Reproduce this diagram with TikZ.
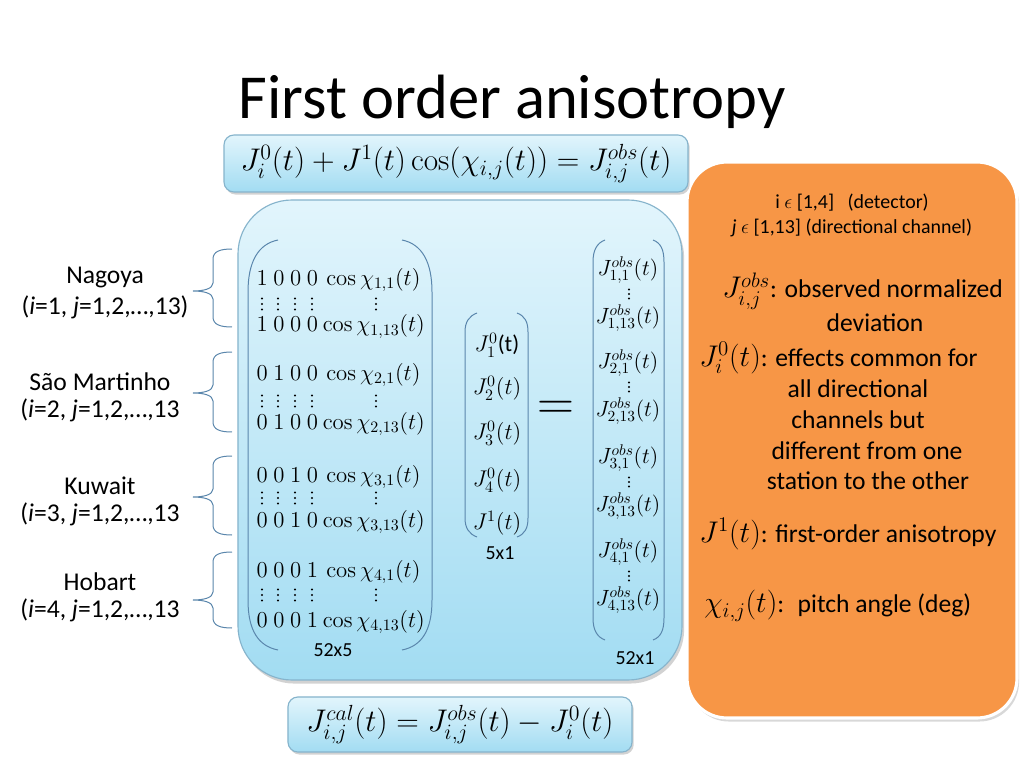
\RequirePackage{fix-cm}
\documentclass[tikz,border=0pt]{standalone}
\usepackage[no-math]{fontspec}
\setmainfont{Carlito}
\usetikzlibrary{shadows}
\definecolor{boxtop}{HTML}{E2F5FC}
\definecolor{boxbot}{HTML}{A2DCF2}
\definecolor{boxline}{HTML}{86B4CC}
\definecolor{parcol}{HTML}{5A86AC}
\definecolor{orng}{HTML}{F79646}
\newcommand\dg[1]{\makebox[11.75pt][c]{$#1$}}
\newcommand\mrow[6]{\dg{#1}\dg{#2}\dg{#3}\dg{#4}\hspace{#6}$\cos\chi_{#5}(t)$}
% three vertical dots drawn as small discs: x, y, spacing, radius
\newcommand\dotcol[4]{%
  \fill[black] (#1,#2-#3) circle[radius=#4];
  \fill[black] (#1,#2) circle[radius=#4];
  \fill[black] (#1,#2+#3) circle[radius=#4];}
\newcommand\sidebrace[3]{%
  \draw[bracestyle] (232,#1) .. controls (221,#1) and (213,#1+2) .. (213,#1+10)
    -- (213,#2-8) .. controls (213,#2-2) and (203,#2) .. (193,#2)
    .. controls (203,#2) and (213,#2+2) .. (213,#2+8)
    -- (213,#3-10) .. controls (213,#3-2) and (221,#3) .. (232,#3);}
\tikzset{
  eqbox/.style={draw=boxline, line width=0.8pt, rounded corners=7pt,
    top color=boxtop, bottom color=boxbot,
    drop shadow={shadow xshift=1.2pt, shadow yshift=-1.8pt, opacity=0.35}},
  bigbox/.style={draw=boxline, line width=0.8pt, rounded corners=38pt,
    top color=boxtop, bottom color=boxbot,
    drop shadow={shadow xshift=1.5pt, shadow yshift=-2.5pt, opacity=0.35}},
  obox/.style={draw=white, line width=2.2pt, rounded corners=28pt, fill=orng,
    drop shadow={shadow xshift=1.5pt, shadow yshift=-2.5pt, opacity=0.3}},
  parstyle/.style={draw=parcol, line width=0.7pt},
  bracestyle/.style={draw=parcol, line width=0.7pt},
  titletxt/.style={font=\fontsize{44}{50}\selectfont, inner sep=0pt, anchor=base},
  lbl/.style={font=\fontsize{18}{21}\selectfont, inner sep=0pt},
  otxt/.style={font=\fontsize{18}{21}\selectfont, inner sep=0pt},
  stxt/.style={font=\fontsize{14}{17}\selectfont, inner sep=0pt},
  mtx/.style={font=\fontsize{16}{19}\selectfont, inner sep=0pt, anchor=base west},
  vec/.style={font=\fontsize{16}{19}\selectfont, inner sep=0pt},
  ovec/.style={font=\fontsize{15.5}{18}\selectfont, inner sep=0pt},
}
\begin{document}
\begin{tikzpicture}[x=0.703125pt,y=-0.703125pt]
\useasboundingbox (0,0) rectangle (1024,768);
\fill[white] (0,0) rectangle (1024,768);

% title
\node[titletxt] (title) at (512,119) {First order anisotropy};

% boxes
\node[obox, minimum width=232pt, minimum height=390.9pt] (orange) at (852,440) {};
\node[bigbox, minimum width=312.2pt, minimum height=337.5pt] (big) at (460,440) {};
\node[eqbox, minimum width=326.25pt, minimum height=40.08pt] (topeq) at (456,163.5)
  {\fontsize{22}{26}\selectfont $J_i^0(t)+J^1(t)\cos(\chi_{i,j}(t))=J_{i,j}^{obs}(t)$};
\node[eqbox, minimum width=241.9pt, minimum height=38.7pt] (boteq) at (460,724.5)
  {\fontsize{22}{26}\selectfont $J_{i,j}^{cal}(t)=J_{i,j}^{obs}(t)-J_i^0(t)$};

% left labels
\node[lbl] (nag1) at (105,277) {Nagoya};
\node[lbl] (nag2) at (105,307) {(\textit{i}=1, \textit{j}=1,2,…,13)};
\node[lbl] (sao1) at (100,382) {São Martinho};
\node[lbl] (sao2) at (100,410) {(\textit{i}=2, \textit{j}=1,2,…,13};
\node[lbl] (kuw1) at (100,486) {Kuwait};
\node[lbl] (kuw2) at (100,514) {(\textit{i}=3, \textit{j}=1,2,…,13};
\node[lbl] (hob1) at (100,582) {Hobart};
\node[lbl] (hob2) at (100,610) {(\textit{i}=4, \textit{j}=1,2,…,13};

% braces
\sidebrace{249}{291}{327}
\sidebrace{352}{393}{432}
\sidebrace{456}{497}{535}
\sidebrace{552}{600}{628}

% 52x5 matrix parentheses
\draw[parstyle] (278,240) .. controls (258,244) and (248,262) .. (248,292) -- (248,600)
  .. controls (248,630) and (258,646) .. (278,650);
\draw[parstyle] (402,240) .. controls (422,244) and (432,262) .. (432,292) -- (432,600)
  .. controls (432,630) and (422,646) .. (402,650);

% matrix rows
\node[mtx] (r1) at (253.6,285) {\mrow{1}{0}{0}{0}{1,1}{4pt}};
\node[mtx] (r2) at (253.6,332) {\mrow{1}{0}{0}{0}{1,13}{1.5pt}};
\node[mtx] (r3) at (253.6,380) {\mrow{0}{1}{0}{0}{2,1}{4pt}};
\node[mtx] (r4) at (253.6,429) {\mrow{0}{1}{0}{0}{2,13}{1.5pt}};
\node[mtx] (r5) at (253.6,482) {\mrow{0}{0}{1}{0}{3,1}{4pt}};
\node[mtx] (r6) at (253.6,527) {\mrow{0}{0}{1}{0}{3,13}{1.5pt}};
\node[mtx] (r7) at (253.6,577) {\mrow{0}{0}{0}{1}{4,1}{4pt}};
\node[mtx] (r8) at (253.6,627) {\mrow{0}{0}{0}{1}{4,13}{1.5pt}};
\foreach \yy in {304,401,498,595}{
  \foreach \xx in {262,278,295,312,376}{
    \dotcol{\xx}{\yy}{5.5}{0.85pt}
  }
}
\node[stxt] (s52x5) at (333,650) {52x5};

% 5x1 vector
\draw[parstyle] (477,313) .. controls (469,316) and (465,322) .. (465,332) -- (465,518)
  .. controls (465,528) and (469,534) .. (477,537);
\draw[parstyle] (517,313) .. controls (525,316) and (528,322) .. (528,332) -- (528,518)
  .. controls (528,528) and (525,534) .. (517,537);
\node[vec] (v1) at (497,345) {$J_1^0$(t)};
\node[vec] (v2) at (497,388) {$J_2^0(t)$};
\node[vec] (v3) at (497,433) {$J_3^0(t)$};
\node[vec] (v4) at (497,480) {$J_4^0(t)$};
\node[vec] (v5) at (497,523) {$J^1(t)$};
\node[stxt] (s5x1) at (500,553) {5x1};

% equals
\node[inner sep=0pt, font=\fontsize{36}{40}\selectfont] (eq) at (556,410) {$=$};

% 52x1 vector
\draw[parstyle] (605,240) .. controls (597,243) and (593,250) .. (593,262) -- (593,618)
  .. controls (593,630) and (597,637) .. (605,640);
\draw[parstyle] (653,240) .. controls (661,243) and (664,250) .. (664,262) -- (664,618)
  .. controls (664,630) and (661,637) .. (653,640);
\node[ovec] (o1) at (628,270) {$J^{obs}_{1,1}(t)$};
\node[ovec] (o2) at (628,318) {$J^{obs}_{1,13}(t)$};
\node[ovec] (o3) at (628,363) {$J^{obs}_{2,1}(t)$};
\node[ovec] (o4) at (628,411) {$J^{obs}_{2,13}(t)$};
\node[ovec] (o5) at (628,458) {$J^{obs}_{3,1}(t)$};
\node[ovec] (o6) at (628,506) {$J^{obs}_{3,13}(t)$};
\node[ovec] (o7) at (628,552) {$J^{obs}_{4,1}(t)$};
\node[ovec] (o8) at (628,600) {$J^{obs}_{4,13}(t)$};
\foreach \yy in {294,387,482,576}{
  \dotcol{629}{\yy}{4.5}{0.75pt}
}
\node[stxt] (s52x1) at (635,658) {52x1};

% orange box text
\node[stxt] (oi) at (852,203) {i $\epsilon$ [1,4] \ \ (detector)};
\node[stxt] (oj) at (852,228) {\textit{j} $\epsilon$ [1,13] (directional channel)};
\node[otxt, anchor=west] (ob1) at (722,291) {\fontsize{21}{24}\selectfont$J^{obs}_{i,j}$\fontsize{18}{21}\selectfont: observed normalized};
\node[otxt] (ob2) at (875,323) {deviation};
\node[otxt, anchor=west] (oc1) at (699,358) {\fontsize{21}{24}\selectfont$J_i^0(t)$\fontsize{18}{21}\selectfont: effects common for};
\node[otxt] (oc2) at (858,389) {all directional};
\node[otxt] (oc3) at (858,420) {channels but};
\node[otxt] (oc4) at (867,451) {different from one};
\node[otxt] (oc5) at (868,481) {station to the other};
\node[otxt, anchor=west] (od) at (699,534) {\fontsize{21}{24}\selectfont$J^1(t)$\fontsize{18}{21}\selectfont: first-order anisotropy};
\node[otxt, anchor=west] (oe) at (704,606) {\fontsize{21}{24}\selectfont$\chi_{i,j}(t)$\fontsize{18}{21}\selectfont: \ pitch angle (deg)};
\end{tikzpicture}
\end{document}
